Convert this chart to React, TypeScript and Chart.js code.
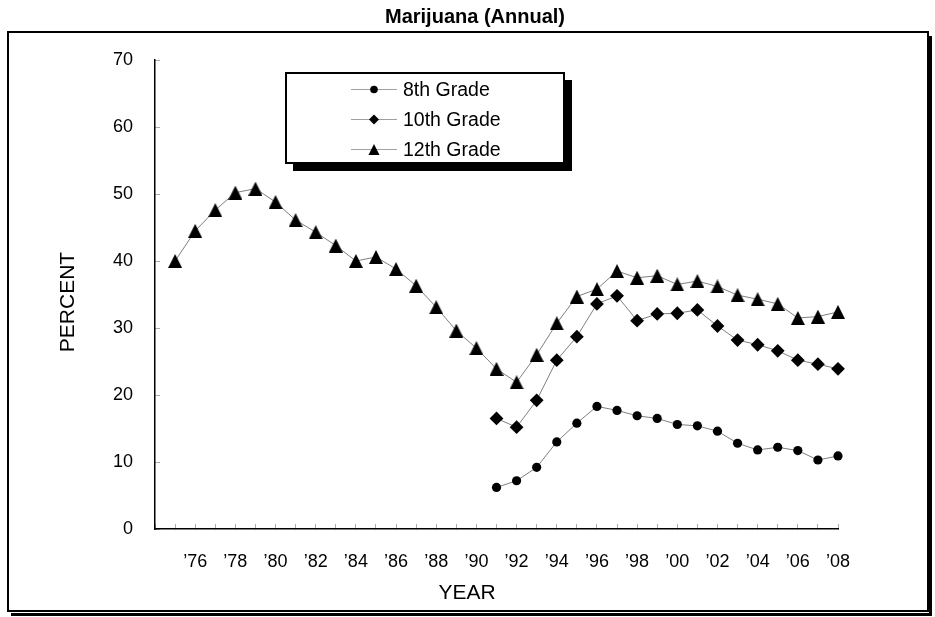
import React, { useEffect, useRef } from "react";
import { Chart, registerables } from "chart.js";

Chart.register(...registerables);

const chartTitle = "Marijuana (Annual)";
const xAxisTitle = "YEAR";
const yAxisTitle = "PERCENT";

const years12 = [
  1975, 1976, 1977, 1978, 1979, 1980, 1981, 1982, 1983, 1984, 1985, 1986,
  1987, 1988, 1989, 1990, 1991, 1992, 1993, 1994, 1995, 1996, 1997, 1998,
  1999, 2000, 2001, 2002, 2003, 2004, 2005, 2006, 2007, 2008,
];
const grade12 = [
  40.0, 44.5, 47.6, 50.2, 50.8, 48.8, 46.1, 44.3, 42.3, 40.0, 40.6, 38.8,
  36.3, 33.1, 29.6, 27.0, 23.9, 21.9, 26.0, 30.7, 34.7, 35.8, 38.5, 37.5,
  37.8, 36.5, 37.0, 36.2, 34.9, 34.3, 33.6, 31.5, 31.7, 32.4,
];
const years8and10 = [
  1991, 1992, 1993, 1994, 1995, 1996, 1997, 1998, 1999, 2000, 2001, 2002,
  2003, 2004, 2005, 2006, 2007, 2008,
];
const grade10 = [
  16.5, 15.2, 19.2, 25.2, 28.7, 33.6, 34.8, 31.1, 32.1, 32.2, 32.7, 30.3,
  28.2, 27.5, 26.6, 25.2, 24.6, 23.9,
];
const grade8 = [
  6.2, 7.2, 9.2, 13.0, 15.8, 18.3, 17.7, 16.9, 16.5, 15.6, 15.4, 14.6, 12.8,
  11.8, 12.2, 11.7, 10.3, 10.9,
];
const seriesLabels = ["8th Grade", "10th Grade", "12th Grade"];
const xMin = 1974;
const xMax = 2008;
const yMin = 0;
const yMax = 70;
const yStep = 10;

const FONT = '"Liberation Sans", Arial, sans-serif';

function makeTriangle(w: number, h: number): HTMLCanvasElement {
  const c = document.createElement("canvas");
  c.width = Math.ceil(w);
  c.height = Math.ceil(h);
  const ctx = c.getContext("2d")!;
  ctx.fillStyle = "#000";
  ctx.beginPath();
  ctx.moveTo(c.width / 2, 0);
  ctx.lineTo(c.width, c.height);
  ctx.lineTo(0, c.height);
  ctx.closePath();
  ctx.fill();
  return c;
}

function drawMarker(ctx: CanvasRenderingContext2D, kind: number, x: number, y: number, r: number) {
  ctx.beginPath();
  if (kind === 0) {
    ctx.arc(x, y, r, 0, Math.PI * 2);
  } else if (kind === 1) {
    ctx.moveTo(x - r, y);
    ctx.lineTo(x, y - r);
    ctx.lineTo(x + r, y);
    ctx.lineTo(x, y + r);
    ctx.closePath();
  } else {
    ctx.moveTo(x, y - r);
    ctx.lineTo(x + r, y + r);
    ctx.lineTo(x - r, y + r);
    ctx.closePath();
  }
  ctx.fillStyle = "#000";
  ctx.fill();
}

const decorPlugin = {
  id: "decor",
  beforeDraw(chart: any) {
    const ctx: CanvasRenderingContext2D = chart.ctx;
    ctx.save();
    ctx.fillStyle = "#fff";
    ctx.fillRect(0, 0, chart.width, chart.height);
    // outer frame with shadow
    ctx.fillStyle = "#000";
    ctx.fillRect(929, 36, 3, 580);
    ctx.fillRect(11, 613, 921, 3);
    ctx.strokeStyle = "#000";
    ctx.lineWidth = 2;
    ctx.strokeRect(8, 32, 920, 579);
    // title
    ctx.fillStyle = "#000";
    ctx.font = `bold 20px ${FONT}`;
    ctx.textAlign = "center";
    ctx.textBaseline = "middle";
    ctx.fillText(chartTitle, 475, 17);
    // axis titles
    ctx.font = `21px ${FONT}`;
    ctx.fillText(xAxisTitle, 467, 593);
    ctx.translate(68, 302);
    ctx.rotate(-Math.PI / 2);
    ctx.fillText(yAxisTitle, 0, 0);
    ctx.restore();
  },
  afterDraw(chart: any) {
    const ctx: CanvasRenderingContext2D = chart.ctx;
    ctx.save();
    // legend box
    ctx.fillStyle = "#000";
    ctx.fillRect(293, 80, 279, 91);
    ctx.fillStyle = "#fff";
    ctx.fillRect(286, 73, 278, 90);
    ctx.strokeStyle = "#000";
    ctx.lineWidth = 2;
    ctx.strokeRect(286, 73, 278, 90);
    const rowsY = [89.5, 119.5, 149.5];
    const markerR = [3.8, 5, 5.5];
    chart.data.datasets.forEach((ds: any, i: number) => {
      const y = rowsY[i];
      ctx.strokeStyle = "#a0a0a0";
      ctx.lineWidth = 1;
      ctx.beginPath();
      ctx.moveTo(351, y);
      ctx.lineTo(397, y);
      ctx.stroke();
      drawMarker(ctx, i, 374, y, markerR[i]);
      ctx.fillStyle = "#000";
      ctx.font = `19.5px ${FONT}`;
      ctx.textAlign = "left";
      ctx.textBaseline = "middle";
      ctx.fillText(ds.label, 403, y + 1);
    });
    ctx.restore();
  },
};

export default function App() {
  const canvasRef = useRef<HTMLCanvasElement | null>(null);

  useEffect(() => {
    if (!canvasRef.current) return;
    const toPoints = (xs: number[], ys: number[]) => xs.map((x, i) => ({ x, y: ys[i] }));
    const triangle = makeTriangle(14, 14);
    const common = {
      borderColor: "#808080",
      borderWidth: 1,
      pointBackgroundColor: "#000",
      pointBorderColor: "#000",
      pointBorderWidth: 0,
      tension: 0,
      clip: false as any,
    };
    const chart = new Chart(canvasRef.current, {
      type: "line",
      data: {
        datasets: [
          { ...common, label: seriesLabels[0], data: toPoints(years8and10, grade8), pointStyle: "circle", pointRadius: 4.6 },
          { ...common, label: seriesLabels[1], data: toPoints(years8and10, grade10), pointStyle: "rectRot", pointRadius: 6.9 },
          { ...common, label: seriesLabels[2], data: toPoints(years12, grade12), pointStyle: triangle as any, pointRadius: 7 },
        ],
      },
      options: {
        animation: false,
        responsive: false,
        devicePixelRatio: 1,
        layout: { padding: { left: 0, top: 60, right: 97, bottom: 0 } },
        plugins: { legend: { display: false }, title: { display: false }, tooltip: { enabled: false } },
        scales: {
          x: {
            type: "linear",
            min: xMin,
            max: xMax,
            afterFit: (s: any) => { s.height = 88; },
            border: { display: true, color: "#000", width: 1.5 },
            grid: { display: true, drawOnChartArea: false, drawTicks: true, tickLength: -5, color: "#aaa" },
            ticks: {
              stepSize: 1,
              autoSkip: false,
              maxRotation: 0,
              padding: 27,
              color: "#000",
              font: { family: FONT, size: 18 },
              callback: (v: any) => {
                const n = Number(v);
                if (n % 2 !== 0 || n === xMin) return "";
                return "\u2019" + String(n % 100).padStart(2, "0");
              },
            },
          },
          y: {
            min: yMin,
            max: yMax,
            afterFit: (s: any) => { s.width = 155; },
            border: { display: true, color: "#000", width: 1.5 },
            grid: { display: true, drawOnChartArea: false, drawTicks: true, tickLength: -5, color: "#aaa" },
            ticks: {
              stepSize: yStep,
              padding: 27,
              color: "#000",
              font: { family: FONT, size: 18 },
            },
          },
        },
      },
      plugins: [decorPlugin],
    });
    return () => chart.destroy();
  }, []);

  return (
    <div style={{ position: "absolute", left: 0, top: 0, width: 935, height: 617 }}>
      <canvas ref={canvasRef} width={935} height={617} />
    </div>
  );
}
